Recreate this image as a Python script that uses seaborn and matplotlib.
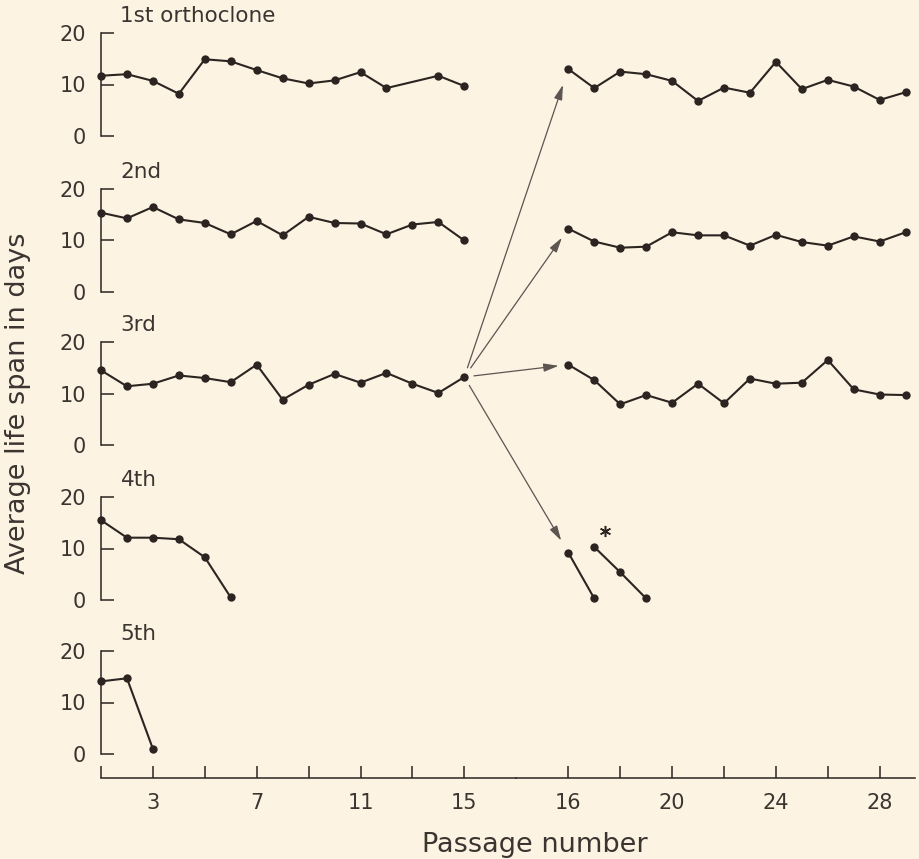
import matplotlib
matplotlib.use("Agg")
import numpy as np
import pandas as pd
import matplotlib.pyplot as plt
import seaborn as sns
from matplotlib.patches import ConnectionPatch

# ---------------- data ----------------
passages_left = list(range(1, 16))
passages_right = list(range(16, 30))

first_left = [11.7, 12.0, 10.7, 8.2, 14.9, 14.5, 12.8, 11.2, 10.2, 10.8, 12.4, 9.3, None, 11.7, 9.7]
first_right = [13.0, 9.3, 12.5, 12.0, 10.7, 6.8, 9.4, 8.4, 14.4, 9.1, 10.9, 9.6, 7.0, 8.5]

second_left = [15.4, 14.3, 16.5, 14.1, 13.4, 11.2, 13.8, 11.0, 14.6, 13.4, 13.3, 11.2, 13.1, 13.6, 10.0]
second_right = [12.3, 9.8, 8.6, 8.8, 11.6, 11.0, 11.0, 9.0, 11.1, 9.7, 9.0, 10.8, 9.8, 11.6]

third_left = [14.5, 11.4, 11.9, 13.5, 13.0, 12.2, 15.6, 8.8, 11.7, 13.8, 12.1, 14.0, 11.9, 10.1, 13.2]
third_right = [15.6, 12.6, 7.9, 9.7, 8.2, 11.9, 8.1, 12.9, 11.9, 12.1, 16.5, 10.8, 9.8, 9.7]

fourth_left_passages = [1, 2, 3, 4, 5, 6]
fourth_left = [15.5, 12.1, 12.1, 11.8, 8.3, 0.5]
fourth_right_a_passages = [16, 17]
fourth_right_a = [9.2, 0.3]
fourth_right_b_passages = [17, 18, 19]
fourth_right_b = [10.3, 5.4, 0.3]

fifth_left_passages = [1, 2, 3]
fifth_left = [14.1, 14.7, 1.0]

star_passage = [17.4]
star_value = [13.4]

panel_labels = ["1st orthoclone", "2nd", "3rd", "4th", "5th"]
y_ticks = [0, 10, 20]
x_ticks_left = [1, 3, 5, 7, 9, 11, 13, 15]
x_ticklabels_left = ["", "3", "", "7", "", "11", "", "15"]
x_ticks_right = [16, 18, 20, 22, 24, 26, 28]
x_ticklabels_right = ["16", "", "20", "", "24", "", "28"]
x_label = "Passage number"
y_label = "Average life span in days"

# ---------------- style ----------------
sns.set_theme(style="white")
plt.rcParams["font.family"] = ["DejaVu Sans"]
BG = "#FDF3E2"
INK = "#2b2421"
TXT = "#3b3532"
ARROW = "#5c5552"

W, H = 919, 859
fig = plt.figure(figsize=(W / 100, H / 100), dpi=100, facecolor=BG)

# layout (pixels)
X_LEFT, X_SPLIT, X_RIGHT = 101, 516, 915
X16 = 568.3
PXP = 25.95          # pixels per passage
Y20 = [33, 189, 342, 497, 651]
U = 5.15             # pixels per day
X_AXIS_Y = 778


def px_axes(x0, x1, ytop, ybot):
    return fig.add_axes([x0 / W, 1 - ybot / H, (x1 - x0) / W, (ybot - ytop) / H])


def draw(ax, xs, ys):
    df = pd.DataFrame({"passage": xs, "days": ys}).dropna()
    sns.lineplot(data=df, x="passage", y="days", ax=ax, color=INK, marker="o",
                 markersize=6, markeredgewidth=0, linewidth=1.5, clip_on=False,
                 estimator=None)
    ax.set_xlabel("")
    ax.set_ylabel("")


left_series = [
    [(passages_left, first_left)],
    [(passages_left, second_left)],
    [(passages_left, third_left)],
    [(fourth_left_passages, fourth_left)],
    [(fifth_left_passages, fifth_left)],
]
right_series = [
    [(passages_right, first_right)],
    [(passages_right, second_right)],
    [(passages_right, third_right)],
    [(fourth_right_a_passages, fourth_right_a), (fourth_right_b_passages, fourth_right_b)],
    [],
]

axL, axR = [], []
for i in range(5):
    ytop = Y20[i] - 2 * U
    y0 = Y20[i] + 20 * U
    ybot = X_AXIS_Y if i == 4 else y0 + 2 * U
    ylo = -(ybot - y0) / U
    aL = px_axes(X_LEFT, X_SPLIT, ytop, ybot)
    aR = px_axes(X_SPLIT, X_RIGHT, ytop, ybot)
    for a in (aL, aR):
        a.set_facecolor("none")
        a.set_ylim(ylo, 22)
        for s in a.spines.values():
            s.set_visible(False)
            s.set_color(INK)
            s.set_linewidth(1.1)
    aL.set_xlim(1, 1 + (X_SPLIT - X_LEFT) / PXP)
    aR.set_xlim(16 - (X16 - X_SPLIT) / PXP, 16 + (X_RIGHT - X16) / PXP)

    for xs, ys in left_series[i]:
        draw(aL, xs, ys)
    for xs, ys in right_series[i]:
        draw(aR, xs, ys)

    # y axis (left column)
    aL.spines["left"].set_visible(True)
    aL.spines["left"].set_bounds(0, 20)
    aL.set_yticks(y_ticks)
    aL.set_yticklabels([str(v) for v in y_ticks])
    aL.tick_params(axis="y", direction="in", length=9, width=1.1, pad=11,
                   labelsize=15, colors=INK, labelcolor=TXT, left=True)
    aR.set_yticks([])
    aL.set_xticks([])
    aR.set_xticks([])

    aL.annotate(panel_labels[i], xy=(1, 20), xycoords="data", xytext=(14, 12),
                textcoords="offset points", ha="left", va="center",
                fontsize=15.5, color=TXT)
    axL.append(aL)
    axR.append(aR)

# bottom passage axis
for a, ticks, labels in ((axL[4], x_ticks_left, x_ticklabels_left),
                         (axR[4], x_ticks_right, x_ticklabels_right)):
    a.spines["bottom"].set_visible(True)
    a.set_xticks(ticks)
    a.set_xticklabels(labels)
    a.tick_params(axis="x", direction="in", length=9, width=1.1, pad=11,
                  labelsize=15, colors=INK, labelcolor=TXT, bottom=True)

# asterisk beside the second 4th-row branch
axR[3].plot(star_passage, star_value, linestyle="none", marker=(6, 2, 0),
            markersize=8, markeredgewidth=1.1, color=INK, clip_on=False)

# arrows from the 3rd orthoclone's passage-15 point to the sub-lines
src = (passages_left[-1], third_left[-1])
targets = [(axR[0], (passages_right[0], first_right[0]), 7, 12),
           (axR[1], (passages_right[0], second_right[0]), 8, 8),
           (axR[2], (passages_right[0], third_right[0]), 7, 7),
           (axR[3], (fourth_right_a_passages[0], fourth_right_a[0]), 7, 10)]
for ax_t, tgt, shA, shB in targets:
    con = ConnectionPatch(xyA=src, coordsA=axL[2].transData,
                          xyB=tgt, coordsB=ax_t.transData,
                          arrowstyle="-|>,head_length=0.9,head_width=0.25",
                          mutation_scale=10, shrinkA=shA, shrinkB=shB,
                          color=ARROW, linewidth=0.9)
    fig.add_artist(con)

fig.text(535 / W, 1 - 845 / H, x_label, ha="center", va="center",
         fontsize=19.5, color=TXT)
fig.text(18 / W, 1 - 403 / H, y_label, ha="center", va="center",
         rotation=90, fontsize=19.5, color=TXT)

fig.savefig("out.png", dpi=100, facecolor=BG)
